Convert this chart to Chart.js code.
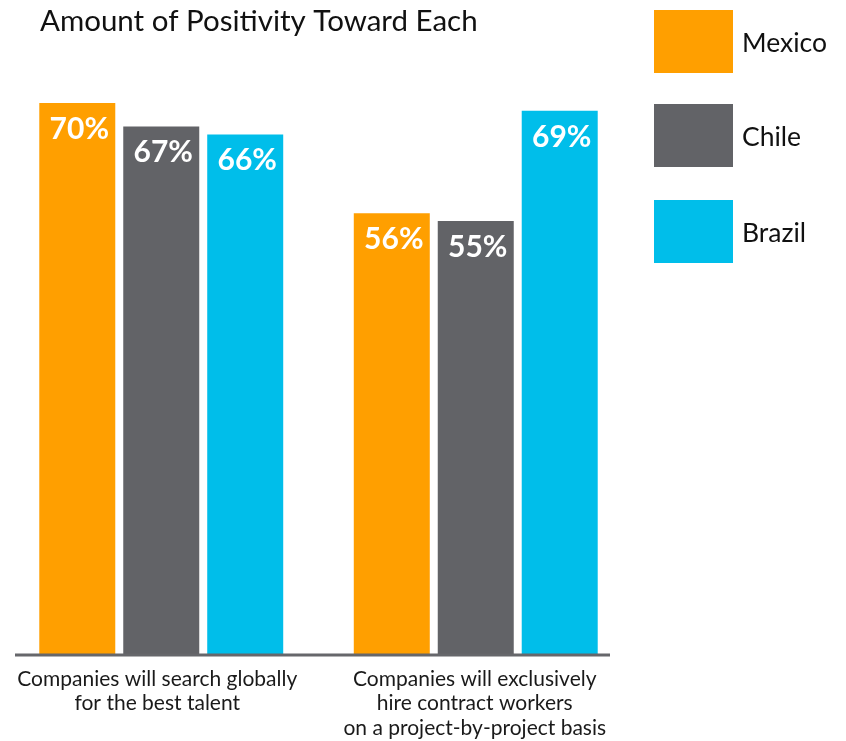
<!DOCTYPE html>
<html>
<head>
<meta charset="utf-8">
<script src="https://cdn.jsdelivr.net/npm/chart.js@4.4.1/dist/chart.umd.min.js"></script>
<style>
  html, body { margin: 0; padding: 0; background: #ffffff; }
  #wrap { position: relative; width: 846px; height: 741px; }
</style>
</head>
<body>
<div id="wrap"><canvas id="chart" width="846" height="741"></canvas></div>
<script>
// Survey categories (multi-line labels)
const categories = [
  ['Companies will search globally', 'for the best talent'],
  ['Companies will exclusively', 'hire contract workers', 'on a project-by-project basis']
];
const countries = ['Mexico', 'Chile', 'Brazil'];
const mexicoValues = [70, 56];
const chileValues = [67, 55];
const brazilValues = [66, 69];
const countryColors = ['#FF9F00', '#626367', '#00BEEA'];
const chartTitle = 'Amount of Positivity Toward Each';

const FONT = 'Lato, "Open Sans", sans-serif';

// Value labels drawn inside the top of each bar
const valueLabels = {
  id: 'valueLabels',
  afterDatasetsDraw(chart) {
    const ctx = chart.ctx;
    ctx.save();
    ctx.fillStyle = '#ffffff';
    ctx.font = 'bold 30px ' + FONT;
    ctx.textAlign = 'center';
    ctx.textBaseline = 'middle';
    chart.data.datasets.forEach((ds, i) => {
      chart.getDatasetMeta(i).data.forEach((bar, j) => {
        ctx.fillText(ds.data[j] + '%', bar.x + 2, bar.y + 26);
      });
    });
    ctx.restore();
  }
};

// Baseline, category labels, title and legend
const decorations = {
  id: 'decorations',
  afterDraw(chart) {
    const ctx = chart.ctx;
    const xs = chart.scales.x;
    const ys = chart.scales.y;
    const base = ys.getPixelForValue(0);
    ctx.save();
    // baseline
    ctx.strokeStyle = '#66676b';
    ctx.lineWidth = 3;
    ctx.beginPath();
    ctx.moveTo(15, base + 1);
    ctx.lineTo(610, base + 1);
    ctx.stroke();

    // category labels
    ctx.fillStyle = '#1a1a1a';
    ctx.font = '21px ' + FONT;
    ctx.textAlign = 'center';
    ctx.textBaseline = 'middle';
    const labelShift = [-4, -1];
    categories.forEach((lines, i) => {
      const cx = xs.getPixelForValue(i) + labelShift[i];
      lines.forEach((line, k) => {
        ctx.fillText(line, cx, base + 25 + k * 24.5);
      });
    });

    // title
    ctx.font = '29.5px ' + FONT;
    ctx.textAlign = 'left';
    ctx.fillStyle = '#111111';
    ctx.fillText(chartTitle, 40, 21);

    // legend
    const legendTops = [10, 104, 200];
    ctx.font = '26.5px ' + FONT;
    countries.forEach((name, i) => {
      ctx.fillStyle = countryColors[i];
      ctx.fillRect(654, legendTops[i], 79, 63);
      ctx.fillStyle = '#111111';
      ctx.fillText(name, 742, legendTops[i] + 33);
    });
    ctx.restore();
  }
};

new Chart(document.getElementById('chart'), {
  type: 'bar',
  data: {
    labels: categories,
    datasets: [
      { label: countries[0], data: mexicoValues, backgroundColor: countryColors[0] },
      { label: countries[1], data: chileValues, backgroundColor: countryColors[1] },
      { label: countries[2], data: brazilValues, backgroundColor: countryColors[2] }
    ]
  },
  options: {
    responsive: false,
    animation: false,
    devicePixelRatio: 1,
    layout: { padding: { top: 103, bottom: 87, left: 4, right: 213 } },
    datasets: {
      bar: { categoryPercentage: 0.801, barPercentage: 0.905, borderWidth: 0 }
    },
    scales: {
      x: { display: false, offset: true },
      y: { display: false, min: 0, max: 70 }
    },
    plugins: {
      legend: { display: false },
      title: { display: false },
      tooltip: { enabled: false }
    }
  },
  plugins: [valueLabels, decorations]
});
</script>
</body>
</html>
